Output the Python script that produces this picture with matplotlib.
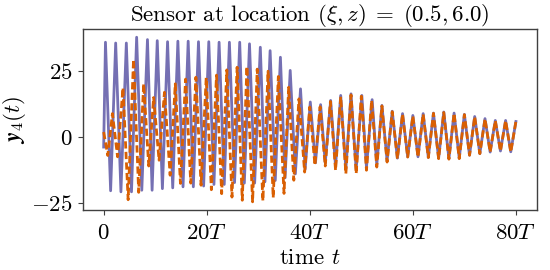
import matplotlib
matplotlib.use("Agg")
import matplotlib.pyplot as plt

plt.rcParams['font.family'] = 'serif'
plt.rcParams['font.serif'] = ['cmr10']
plt.rcParams['mathtext.fontset'] = 'cm'
plt.rcParams['axes.formatter.use_mathtext'] = True

# Extrema (time in units of T, value)
purple_t = [0.0, 0.35, 1.35, 2.33, 3.35, 4.4, 5.4, 6.4, 7.4, 8.5, 9.4, 10.4, 11.4, 12.4, 13.4,
            14.4, 15.4, 16.4, 17.4, 18.4, 19.4, 20.4, 21.4, 22.4, 23.4, 24.4, 25.4, 26.4, 27.3,
            28.3, 29.3, 30.4, 31.3, 32.3, 33.3, 34.3, 35.2, 36.2, 37.2, 38.2, 39.1, 40.1, 41.1,
            42.1, 43.0, 44.05, 45.0, 46.0, 47.0, 48.0, 49.0, 50.1, 51.0, 52.1, 53.0, 54.0, 55.0,
            56.0, 57.0, 58.0, 59.0, 60.0, 61.0, 62.0, 63.0, 64.0, 65.0, 66.0, 67.0, 68.0, 69.0,
            70.0, 71.0, 72.0, 73.0, 74.0, 75.0, 76.0, 77.0, 78.0, 79.0, 80.0]
purple_y = [-3.8, 36.0, -20.4, 35.7, -20.8, 35.7, -20.8, 37.9, -20.2, 37.0, -20.2, 36.6, -19.6,
            36.2, -19.3, 36.4, -18.9, 36.4, -18.9, 36.2, -18.6, 36.2, -18.0, 36.0, -18.0, 36.0,
            -17.3, 36.0, -17.5, 35.4, -17.5, 34.1, -17.0, 32.8, -16.5, 30.3, -15.5, 25.3, -14.0,
            18.3, -12.2, 13.3, -9.8, 12.3, -9.8, 13.9, -11.0, 15.8, -12.0, 16.4, -12.3, 15.8,
            -11.5, 14.2, -10.5, 12.0, -9.0, 9.8, -8.0, 8.9, -7.5, 8.2, -7.5, 8.9, -7.7, 9.1,
            -8.0, 9.5, -8.2, 9.1, -8.0, 8.6, -6.9, 7.8, -6.3, 7.0, -5.7, 6.3, -5.3, 6.3, -5.6, 5.9]

orange_t = [0.0, 0.8, 1.7, 2.7, 3.75, 4.75, 5.8, 6.8, 7.76, 8.75, 9.7, 10.75, 11.8, 12.9, 13.9,
            14.9, 15.9, 16.9, 17.9, 18.9, 19.9, 20.9, 21.9, 22.9, 23.9, 24.9, 25.9, 26.9, 27.8,
            28.9, 29.8, 30.9, 31.9, 32.9, 33.9, 35.0, 35.9, 36.9, 37.9, 39.0, 40.0, 41.0, 42.0,
            43.0, 44.0, 45.0, 46.0, 47.0, 48.0, 49.0, 50.0, 51.0, 52.0, 53.0, 54.0, 55.0, 56.0,
            57.0, 58.0, 59.0, 60.0, 61.0, 62.0, 63.0, 64.0, 65.0, 66.0, 67.0, 68.0, 69.0, 70.0,
            71.0, 72.0, 73.0, 74.0, 75.0, 76.0, 77.0, 78.0, 79.0, 80.0]
orange_y = [1.9, -7.0, 8.9, -7.5, 18.7, -23.8, 29.5, -21.0, 20.2, -11.0, 15.0, -8.8, 17.0, -14.5,
            20.2, -17.6, 22.0, -17.5, 22.7, -18.3, 22.5, -20.0, 23.5, -21.5, 25.5, -22.8, 26.5,
            -24.0, 26.8, -24.6, 25.8, -24.2, 25.0, -23.0, 23.0, -21.4, 18.9, -16.4, 14.5, -13.3,
            11.4, -10.7, 11.5, -11.0, 13.5, -12.6, 15.3, -13.9, 16.0, -13.9, 15.5, -12.6, 13.9,
            -11.4, 11.8, -9.5, 9.6, -8.2, 8.7, -7.6, 8.0, -7.6, 8.7, -7.8, 9.0, -8.2, 9.3, -8.4,
            9.0, -8.2, 8.5, -6.9, 7.7, -6.3, 6.9, -5.7, 6.2, -5.3, 6.2, -5.7, 5.9]

xtick_vals = [0, 20, 40, 60, 80]
xtick_labels = ['$0$', '$20T$', '$40T$', '$60T$', '$80T$']
ytick_vals = [-25, 0, 25]

fig = plt.figure(figsize=(5.5, 2.7), dpi=100)
ax = fig.add_axes([0.151, 0.222, 0.8245, 0.6706])

ax.plot(purple_t, purple_y, color='#7570b3', lw=2.0, solid_joinstyle='round')
ax.plot(orange_t, orange_y, color='#d95f02', lw=2.0, linestyle=(0, (2.6, 1.2)),
        dash_joinstyle='round')

ax.set_xticks(xtick_vals)
ax.set_xticklabels(xtick_labels)
ax.set_yticks(ytick_vals)
ax.tick_params(axis='x', labelsize=16.5, color='0.25', pad=6)
ax.tick_params(axis='y', labelsize=16.5, color='0.25', pad=4)
for s in ax.spines.values():
    s.set_color('0.25')
    s.set_linewidth(1.0)

ax.set_title(r'Sensor at location $(\xi, z)\;=\;(0.5, 6.0)$', fontsize=16.5, pad=4)
ax.set_xlabel(r'time $t$', fontsize=16.5, labelpad=4)
ax.set_ylabel(r'$\mathbfit{y}_4(t)$', fontsize=16.5, labelpad=2)

fig.savefig('out.png', dpi=100)
